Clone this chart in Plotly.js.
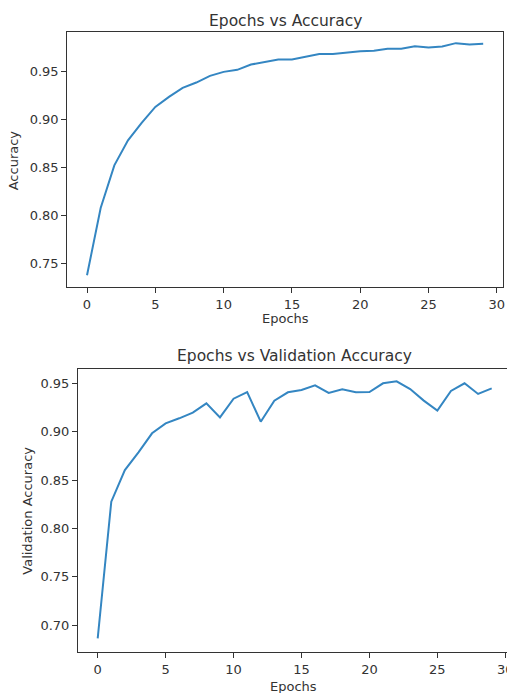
<!DOCTYPE html>
<html>
<head>
<meta charset="utf-8">
<script src="https://cdn.plot.ly/plotly-3.0.1.min.js"></script>
<style>
html, body { margin: 0; padding: 0; overflow: hidden; background: #fff; }
#chart { width: 520px; height: 693px; }
</style>
</head>
<body>
<div id="chart"></div>
<script>
// ---- data ----
const epochs = [0,1,2,3,4,5,6,7,8,9,10,11,12,13,14,15,16,17,18,19,20,21,22,23,24,25,26,27,28,29];
const accuracy = [0.7375,0.8076,0.8520,0.8780,0.8962,0.9128,0.9233,0.9326,0.9382,0.9451,
                  0.9493,0.9514,0.9569,0.9594,0.9622,0.9622,0.9653,0.9680,0.9680,0.9694,
                  0.9708,0.9712,0.9733,0.9733,0.9760,0.9747,0.9757,0.9792,0.9778,0.9785];
const valAccuracy = [0.6862,0.8276,0.8603,0.8786,0.8983,0.9086,0.9138,0.9197,0.9293,0.9148,
                     0.9341,0.9410,0.9103,0.9321,0.9407,0.9431,0.9479,0.9400,0.9438,0.9407,
                     0.9410,0.9500,0.9521,0.9441,0.9321,0.9217,0.9421,0.9500,0.9390,0.9448];
const xTicks = [0,5,10,15,20,25,30];
const yTicksTop = [0.75,0.80,0.85,0.90,0.95];
const yTicksBottom = [0.70,0.75,0.80,0.85,0.90,0.95];
const title1 = 'Epochs vs Accuracy';
const title2 = 'Epochs vs Validation Accuracy';
const xLabel = 'Epochs';
const yLabel1 = 'Accuracy';
const yLabel2 = 'Validation Accuracy';

// ---- layout helpers ----
const W = 520, H = 693;
const px = v => v / W;
const py = v => (H - v) / H;
const FONT = 'DejaVu Sans, Liberation Sans, sans-serif';
const TXT = '#333333';
const LINE = '#3486c2';

const axisBase = {
  showline: true, mirror: true, linecolor: '#333333', linewidth: 1,
  ticks: 'outside', ticklen: 5, tickwidth: 1, tickcolor: '#333333',
  showgrid: false, zeroline: false,
  tickfont: {family: FONT, size: 13, color: TXT}
};

const data = [
  {x: epochs, y: accuracy, type: 'scatter', mode: 'lines',
   line: {color: LINE, width: 2}, xaxis: 'x', yaxis: 'y', hoverinfo: 'skip'},
  {x: epochs, y: valAccuracy, type: 'scatter', mode: 'lines',
   line: {color: LINE, width: 2}, xaxis: 'x2', yaxis: 'y2', hoverinfo: 'skip'}
];

const layout = {
  width: W, height: H,
  margin: {l: 0, r: 0, t: 0, b: 0},
  paper_bgcolor: '#ffffff', plot_bgcolor: '#ffffff',
  showlegend: false,
  xaxis: Object.assign({}, axisBase, {
    domain: [px(67.2), px(503)], anchor: 'y',
    range: [-1.45, 30.45], tickvals: xTicks, ticktext: xTicks.map(String)
  }),
  yaxis: Object.assign({}, axisBase, {
    domain: [py(287.3), py(32.3)], anchor: 'x',
    range: [0.725, 0.9905], tickvals: yTicksTop, ticktext: yTicksTop.map(v => v.toFixed(2))
  }),
  xaxis2: Object.assign({}, axisBase, {
    domain: [px(78), px(511.4)], anchor: 'y2',
    range: [-1.45, 30.45], tickvals: xTicks, ticktext: xTicks.map(String)
  }),
  yaxis2: Object.assign({}, axisBase, {
    domain: [py(652.3), py(369)], anchor: 'x2',
    range: [0.6718, 0.9648], tickvals: yTicksBottom, ticktext: yTicksBottom.map(v => v.toFixed(2))
  }),
  annotations: [
    {text: title1, xref: 'paper', yref: 'paper', x: px(285.2), y: py(20.7),
     xanchor: 'center', yanchor: 'middle', showarrow: false,
     font: {family: FONT, size: 15.5, color: TXT}},
    {text: xLabel, xref: 'paper', yref: 'paper', x: px(285.2), y: py(318.3),
     xanchor: 'center', yanchor: 'middle', showarrow: false,
     font: {family: FONT, size: 13, color: TXT}},
    {text: yLabel1, xref: 'paper', yref: 'paper', x: px(13.3), y: py(160),
     xanchor: 'center', yanchor: 'middle', showarrow: false, textangle: -90,
     font: {family: FONT, size: 13, color: TXT}},
    {text: title2, xref: 'paper', yref: 'paper', x: px(294.7), y: py(356),
     xanchor: 'center', yanchor: 'middle', showarrow: false,
     font: {family: FONT, size: 15.5, color: TXT}},
    {text: xLabel, xref: 'paper', yref: 'paper', x: px(293), y: py(686),
     xanchor: 'center', yanchor: 'middle', showarrow: false,
     font: {family: FONT, size: 13, color: TXT}},
    {text: yLabel2, xref: 'paper', yref: 'paper', x: px(26.7), y: py(511),
     xanchor: 'center', yanchor: 'middle', showarrow: false, textangle: -90,
     font: {family: FONT, size: 13, color: TXT}}
  ]
};

Plotly.newPlot('chart', data, layout, {staticPlot: true, displayModeBar: false});
</script>
</body>
</html>
